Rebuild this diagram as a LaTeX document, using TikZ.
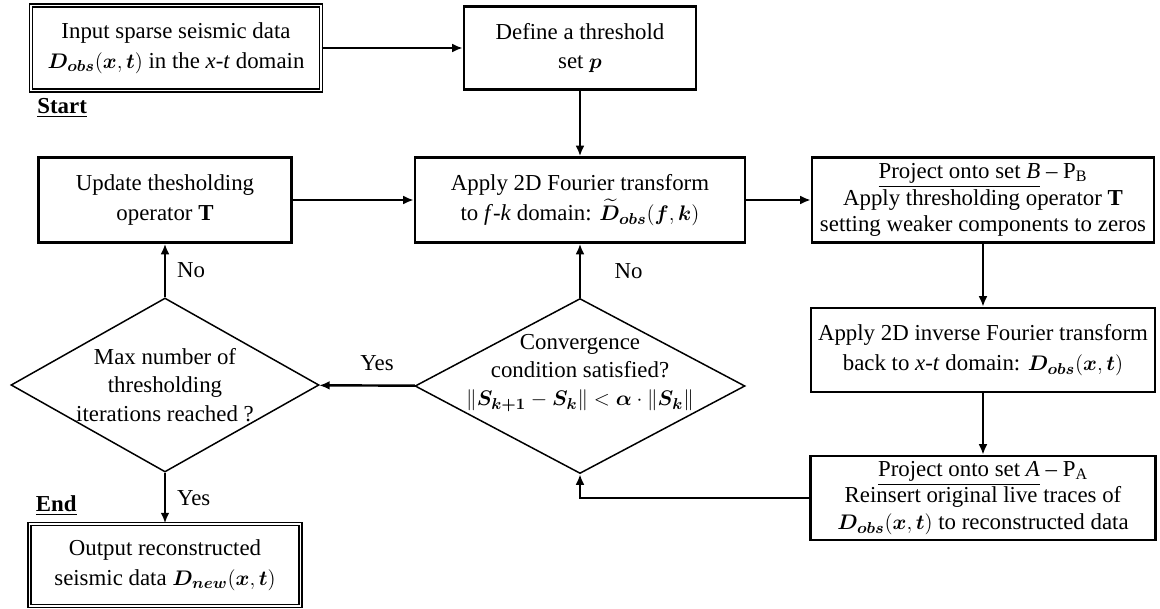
\documentclass[tikz,border=0pt]{standalone}
\usepackage{amsmath, amssymb}
\usepackage{bm}
\usepackage{fontspec}
\setmainfont{Liberation Serif}
\usepackage{tikz}
\usetikzlibrary{arrows.meta}
\usetikzlibrary{shapes.geometric}

\newcommand{\Dobs}{\bm{D}_{\bm{obs}}(\bm{x},\bm{t})}

\tikzset{
  box/.style={draw, rectangle, line width=1.4pt, align=center, minimum height=1.7cm, inner sep=2pt},
  tightbox/.style={box, font=\fontsize{13}{15}\selectfont},
  endbox/.style={draw, rectangle, double, double distance=1.1pt, line width=0.75pt, align=center, minimum height=1.7cm},
  decision/.style={draw, diamond, line width=0.85pt, inner sep=0pt, minimum width=6.16cm, minimum height=3.48cm},
}

\begin{document}
\begin{tikzpicture}[->, >={Latex[length=6pt,width=5pt]}, line width=1.4pt, auto, node distance=3cm,
    every node/.style={font=\fontsize{13}{17}\selectfont}]
        \useasboundingbox (0,0) rectangle (23.2,-12.18);

        \node[endbox, minimum width=5.8cm] (input) at (3.52,-0.96)
            {Input sparse seismic data\\$\Dobs$ in the \textit{x}-\textit{t} domain};
        \node[box, minimum width=4.64cm, minimum height=1.66cm] (define) [right of=input, node distance=8.08cm]
            {Define a threshold\\set $\bm{p}$};
        \node[box, minimum width=6.6cm] (apply) [below of=define, node distance=3.04cm]
            {Apply 2D Fourier transform\\to \textit{f}-\textit{k} domain: $\widetilde{\bm{D}}_{\bm{obs}}(\bm{f},\bm{k})$};
        \node[decision, minimum width=6.6cm, minimum height=3.5cm] (conv) [below of=apply, node distance=3.72cm] {};
        \node[box, minimum width=5.06cm] (update) [left of=apply, node distance=8.3cm]
            {Update thesholding\\operator \textbf{T}};
        \node[decision] (maxd) [below of=update, node distance=3.7cm] {};
        \node[endbox, minimum width=5.42cm, minimum height=1.64cm] (output) [below of=maxd, node distance=3.6cm]
            {Output reconstructed\\seismic data $\bm{D}_{\bm{new}}(\bm{x},\bm{t})$};
        \node[tightbox, minimum width=6.84cm] (projb) [right of=apply, node distance=8.06cm]
            {\underline{Project onto set \textit{B}} -- P\textsubscript{B}\\Apply thresholding operator \textbf{T}\\setting weaker components to zeros};
        \node[box, minimum width=6.88cm, minimum height=1.68cm] (inverse) [below of=projb, node distance=3cm]
            {Apply 2D inverse Fourier transform\\back to \textit{x}-\textit{t} domain: $\Dobs$};
        \node[tightbox, minimum width=6.9cm, minimum height=1.68cm] (proja) [below of=inverse, node distance=2.96cm]
            {\underline{Project onto set \textit{A}} -- P\textsubscript{A}\\Reinsert original live traces of\\$\Dobs$ to reconstructed data};

        % text inside the two diamonds
        \node[align=center, font=\fontsize{13}{16}\selectfont] (convtext) at ([yshift=0.26cm]conv.center)
            {Convergence\\condition satisfied?\\$\|\bm{S}_{\bm{k+1}}-\bm{S}_{\bm{k}}\| < \bm{\alpha}\cdot\|\bm{S}_{\bm{k}}\|$};
        \node[align=center, font=\fontsize{13}{16}\selectfont] (maxtext) at (maxd.center)
            {Max number of\\thresholding\\iterations reached ?};

        \node[below right] (start) at (input.south west) {\textbf{\underline{Start}}};
        \node[above right] (end) at (output.north west) {\textbf{\underline{End}}};

        \path (input) edge (define)
              (define) edge (apply)
              (update) edge (apply)
              (apply) edge (projb)
              (projb) edge (inverse)
              (inverse) edge (proja)
              (conv) edge node[right=0.55cm, swap] {No} (apply)
              (conv) edge node[above=0.15cm, xshift=0.2cm, swap] {Yes} (maxd)
              (maxd) edge node[right=0.1cm, swap] {No} (update)
              (maxd) edge node[right=0.1cm, swap] {Yes} (output);
        \draw (proja.west) -| (conv.south);
    \end{tikzpicture}
\end{document}
